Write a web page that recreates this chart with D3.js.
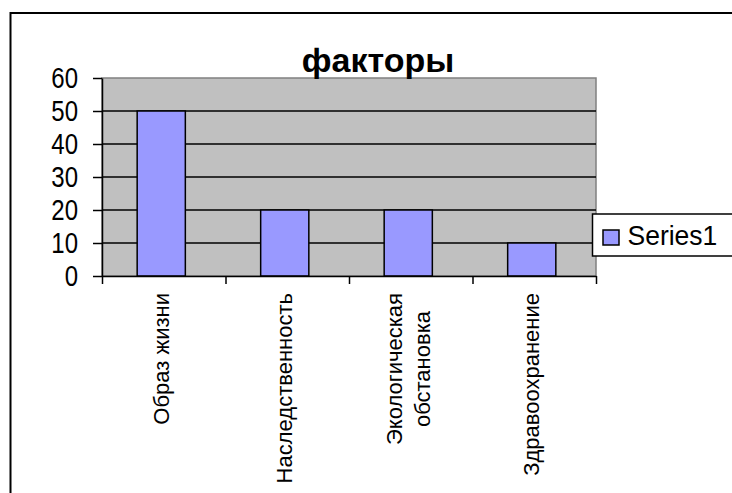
<!DOCTYPE html>
<html>
<head>
<meta charset="utf-8">
<script src="https://cdn.jsdelivr.net/npm/d3@7"></script>
<style>
  html, body { margin: 0; padding: 0; background: #fff; }
  svg { display: block; }
  text { font-family: "Liberation Sans", Arial, sans-serif; fill: #000; }
</style>
</head>
<body>
<div id="chart"></div>
<script>
const title = 'факторы';
const categories = [
  ['Образ жизни'],
  ['Наследственность'],
  ['Экологическая', 'обстановка'],
  ['Здравоохранение']
];
const values = [50, 20, 20, 10];
const yTicks = [0, 10, 20, 30, 40, 50, 60];
const seriesName = 'Series1';

const width = 732, height = 493;
const plot = { left: 102, right: 596, top: 78, bottom: 276 };

const svg = d3.select('#chart').append('svg')
  .attr('width', width)
  .attr('height', height);

// chart area frame (runs off the right and bottom edges)
svg.append('rect')
  .attr('x', 10.5).attr('y', 13)
  .attr('width', 740).attr('height', 500)
  .attr('fill', '#fff')
  .attr('stroke', '#000')
  .attr('stroke-width', 2);

const x = d3.scaleBand()
  .domain(d3.range(categories.length))
  .range([plot.left, plot.right])
  .paddingInner(0.61)
  .paddingOuter(0.305);

const xEdges = d3.scaleLinear()
  .domain([0, categories.length])
  .range([plot.left, plot.right]);

const y = d3.scaleLinear()
  .domain([0, 60])
  .range([plot.bottom, plot.top]);

// plot area
svg.append('rect')
  .attr('x', plot.left).attr('y', plot.top)
  .attr('width', plot.right - plot.left)
  .attr('height', plot.bottom - plot.top)
  .attr('fill', '#c0c0c0')
  .attr('stroke', '#808080')
  .attr('stroke-width', 1.5);

// gridlines
svg.append('g')
  .selectAll('line')
  .data(yTicks.filter(t => t > 0 && t < 60))
  .enter()
  .append('line')
  .attr('x1', plot.left).attr('x2', plot.right)
  .attr('y1', d => y(d)).attr('y2', d => y(d))
  .attr('stroke', '#000')
  .attr('stroke-width', 1.5);

// bars
svg.append('g')
  .attr('transform', 'translate(-2.5,0)')
  .selectAll('.bar')
  .data(values)
  .enter()
  .append('rect')
  .attr('class', 'bar')
  .attr('x', (d, i) => x(i))
  .attr('y', d => y(d))
  .attr('width', x.bandwidth())
  .attr('height', d => y(0) - y(d))
  .attr('fill', '#9999ff')
  .attr('stroke', '#000')
  .attr('stroke-width', 1.5);

// y axis
const yAxis = svg.append('g')
  .attr('transform', `translate(${plot.left},0)`)
  .call(d3.axisLeft(y).tickValues(yTicks).tickSize(9).tickSizeOuter(0).tickPadding(15));
yAxis.selectAll('path, line').attr('stroke', '#000').attr('stroke-width', 1.5);
yAxis.selectAll('text')
  .attr('transform', 'scale(1,1.2)')
  .style('font-size', '24px')
  .style('font-family', '"Liberation Sans", Arial, sans-serif');

// x axis (ticks at category boundaries)
const xAxis = svg.append('g')
  .attr('transform', `translate(0,${plot.bottom})`)
  .call(d3.axisBottom(xEdges).tickValues(d3.range(categories.length + 1)).tickSize(8).tickSizeOuter(0).tickFormat(''));
xAxis.selectAll('path, line').attr('stroke', '#000').attr('stroke-width', 1.5);

// category labels, rotated; lines centred on each other, block starts just under the axis
const labels = svg.append('g')
  .selectAll('.cat')
  .data(categories)
  .enter()
  .append('text')
  .attr('class', 'cat')
  .attr('text-anchor', 'middle')
  .style('font-size', '22px');

labels.selectAll('tspan')
  .data(d => d.map((s, j) => ({ s, j, n: d.length })))
  .enter()
  .append('tspan')
  .attr('x', 0)
  .attr('y', d => (d.j - (d.n - 1) / 2) * 28)
  .attr('dy', '0.35em')
  .text(d => d.s);

labels.attr('transform', function (d, i) {
  const longest = d3.max(d3.select(this).selectAll('tspan').nodes(), n => n.getComputedTextLength());
  return `translate(${x(i) + x.bandwidth() / 2 - 2.5},${293 + longest / 2}) rotate(-90)`;
});

// title
svg.append('text')
  .attr('x', 378).attr('y', 72)
  .attr('text-anchor', 'middle')
  .style('font-size', '34px')
  .style('font-weight', 'bold')
  .text(title);

// legend
const legend = svg.append('g').attr('transform', 'translate(592.5,214)');
legend.append('rect')
  .attr('width', 160).attr('height', 42)
  .attr('fill', '#fff')
  .attr('stroke', '#000')
  .attr('stroke-width', 1.5);
legend.append('rect')
  .attr('x', 10.5).attr('y', 16)
  .attr('width', 16).attr('height', 15)
  .attr('fill', '#9999ff')
  .attr('stroke', '#000')
  .attr('stroke-width', 1.5);
legend.append('text')
  .attr('transform', 'translate(35,31) scale(1,1.02)')
  .style('font-size', '26.5px')
  .text(seriesName);
</script>
</body>
</html>
